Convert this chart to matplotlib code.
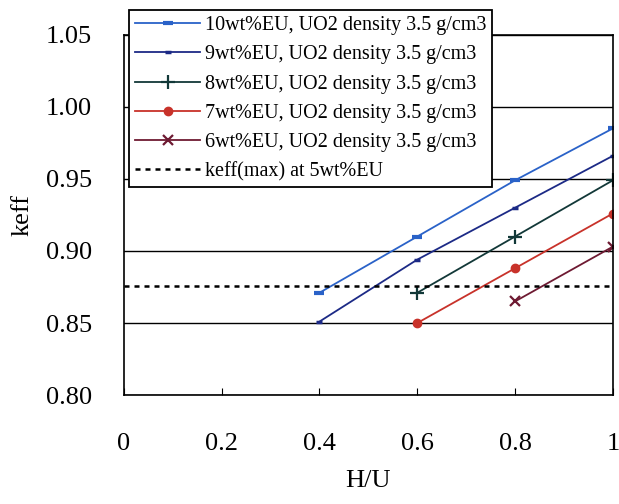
import matplotlib
matplotlib.use("Agg")
import matplotlib.pyplot as plt

plt.rcParams['font.family'] = ['Liberation Serif', 'DejaVu Serif']

# data
hu_10 = [0.4, 0.6, 0.8, 1.0]
keff_10 = [0.871, 0.910, 0.949, 0.985]
hu_9 = [0.4, 0.6, 0.8, 1.0]
keff_9 = [0.851, 0.894, 0.930, 0.966]
hu_8 = [0.6, 0.8, 1.0]
keff_8 = [0.871, 0.910, 0.949]
hu_7 = [0.6, 0.8, 1.0]
keff_7 = [0.850, 0.888, 0.926]
hu_6 = [0.8, 1.0]
keff_6 = [0.865, 0.903]
keff_max_5 = 0.876

labels = ["10wt%EU, UO2 density 3.5 g/cm3",
          "9wt%EU, UO2 density 3.5 g/cm3",
          "8wt%EU, UO2 density 3.5 g/cm3",
          "7wt%EU, UO2 density 3.5 g/cm3",
          "6wt%EU, UO2 density 3.5 g/cm3",
          "keff(max) at 5wt%EU"]

fig = plt.figure(figsize=(6.19, 5.04), dpi=100)
ax = fig.add_axes([0.200, 0.216, 0.790, 0.715])

ax.plot(hu_10, keff_10, color='#2a62c8', lw=1.3, marker='_', ms=7, mew=3, label=labels[0])
ax.plot(hu_9, keff_9, color='#1c2a86', lw=1.3, marker='_', ms=5, mew=2.5, label=labels[1])
ax.plot(hu_8, keff_8, color='#123838', lw=1.3, marker='+', ms=10, mew=1.6, label=labels[2])
ax.plot(hu_7, keff_7, color='#c8322a', lw=1.3, marker='o', ms=6, label=labels[3])
ax.plot(hu_6, keff_6, color='#6e1a32', lw=1.3, marker='x', ms=7, mew=1.6, label=labels[4])
ax.plot([0, 1], [keff_max_5, keff_max_5], color='black', lw=1.8, ls=(0, (2, 2)), label=labels[5])

ax.set_xlim(0, 1)
ax.set_ylim(0.80, 1.05)
ax.set_xticks([0, 0.2, 0.4, 0.6, 0.8, 1.0])
ax.set_xticklabels(['0', '0.2', '0.4', '0.6', '0.8', '1'])
ax.set_yticks([0.80, 0.85, 0.90, 0.95, 1.00, 1.05])
ax.set_yticklabels(['0.80', '0.85', '0.90', '0.95', '1.00', '1.05'])
ax.yaxis.grid(True, color='black', lw=1)
ax.tick_params(axis='x', direction='in', length=5, pad=27, labelsize=19)
ax.tick_params(axis='y', direction='in', length=0, pad=23, labelsize=19)
for s in ax.spines.values():
    s.set_linewidth(1.2)

ax.set_xlabel('H/U', fontsize=19, labelpad=11)
ax.set_ylabel('keff', fontsize=19, labelpad=9)

leg = ax.legend(loc='upper left', bbox_to_anchor=(0.209, 0.980), bbox_transform=fig.transFigure,
                fontsize=14.5, frameon=True, fancybox=False, edgecolor='black', framealpha=1,
                handlelength=3.2, handletextpad=0.25, labelspacing=0.5, borderpad=0.3,
                borderaxespad=0)
leg.get_frame().set_linewidth(1.3)

fig.savefig('out.png', dpi=100)
